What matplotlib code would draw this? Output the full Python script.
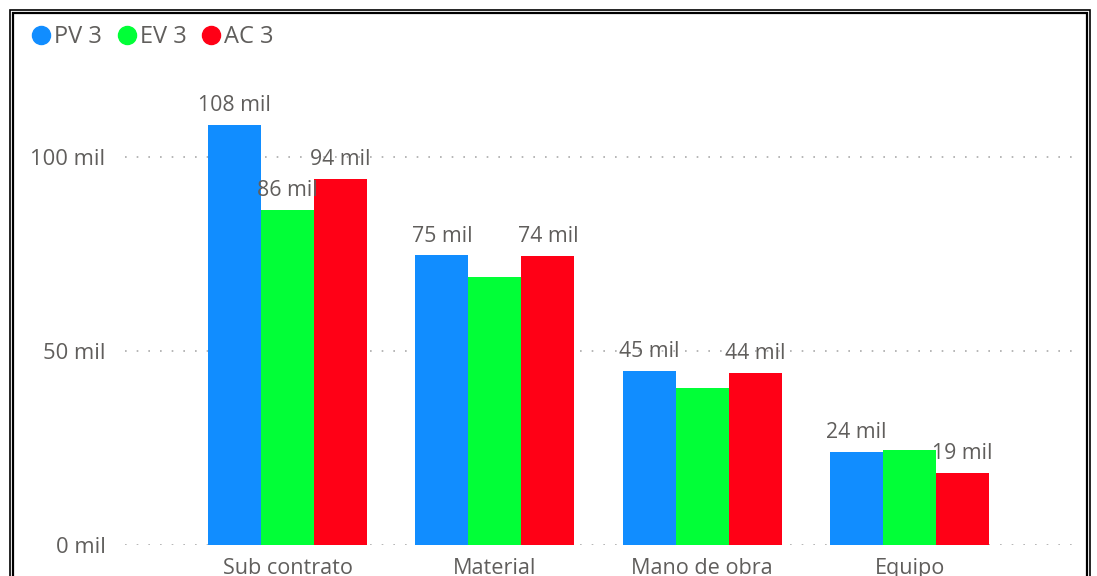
import matplotlib.pyplot as plt
import numpy as np
from matplotlib.lines import Line2D
from matplotlib.patches import Rectangle

categories = ["Sub contrato", "Material", "Mano de obra", "Equipo"]
series = ["PV 3", "EV 3", "AC 3"]
pv = [108.2, 74.6, 44.8, 24.0]
ev = [86.3, 69.0, 40.5, 24.5]
ac = [94.3, 74.4, 44.3, 18.6]
# labels that stay visible in the original (the rest are hidden by overlap)
show_labels = {
    "PV 3": [True, True, True, True],
    "EV 3": [True, False, False, False],
    "AC 3": [True, True, True, True],
}
colors = ["#118DFF", "#01FF37", "#FF0016"]
y_ticks = [0, 50, 100]
y_ticklabels = ["0 mil", "50 mil", "100 mil"]

W, H = 1097, 576
fig = plt.figure(figsize=(W / 100, H / 100), dpi=100)
plt.rcParams['font.family'] = ['Open Sans', 'DejaVu Sans']
txt = "#605E5C"

# axes placed in pixels: x 125..1080, y (from top) 70..545
ax = fig.add_axes([125 / W, (H - 545) / H, 955 / W, 475 / H])
x = np.arange(len(categories))
bw = 0.2557
for i, (name, vals) in enumerate(zip(series, [pv, ev, ac])):
    xs = x + (i - 1) * bw
    ax.bar(xs, vals, width=bw, color=colors[i], zorder=3)
    for xi, v, show in zip(xs, vals, show_labels[name]):
        if show:
            ax.annotate(f"{round(v):.0f} mil", (xi, v), xytext=(0, 10),
                        textcoords="offset points", ha="center", va="baseline",
                        fontsize=15.3, color=txt, zorder=4)

ax.set_xlim(-0.784, 3.822)
ax.set_ylim(0, 122.4)
ax.set_yticks(y_ticks)
ax.set_yticklabels(y_ticklabels)
ax.set_xticks(x)
ax.set_xticklabels(categories)
ax.tick_params(axis="y", length=0, pad=14, labelsize=15.8, labelcolor=txt)
ax.tick_params(axis="x", length=0, pad=9.5, labelsize=15.6, labelcolor=txt)
for s in ax.spines.values():
    s.set_visible(False)
ax.grid(axis="y", color="#AAAAAA", linestyle=(0, (1, 6)), linewidth=1.2, zorder=0)

handles = [Line2D([], [], marker="o", linestyle="", markersize=13,
                  markerfacecolor=c, markeredgecolor=c) for c in colors]
fig.legend(handles, series, loc="upper left", bbox_to_anchor=(21 / W, 1 - 16 / H),
           ncol=3, frameon=False, handlelength=0.9, handletextpad=0.1,
           columnspacing=0.6, fontsize=17, labelcolor=txt, borderaxespad=0)

# double black frame around the visual
fig.patches.append(Rectangle((10 / W, -0.1), 1080 / W, (H - 10) / H + 0.1,
                             transform=fig.transFigure, fill=False,
                             edgecolor="black", linewidth=1.2))
fig.patches.append(Rectangle((13 / W, -0.1), 1074 / W, (H - 13) / H + 0.1,
                             transform=fig.transFigure, fill=False,
                             edgecolor="black", linewidth=1.6))

fig.savefig("out.png", dpi=100)
